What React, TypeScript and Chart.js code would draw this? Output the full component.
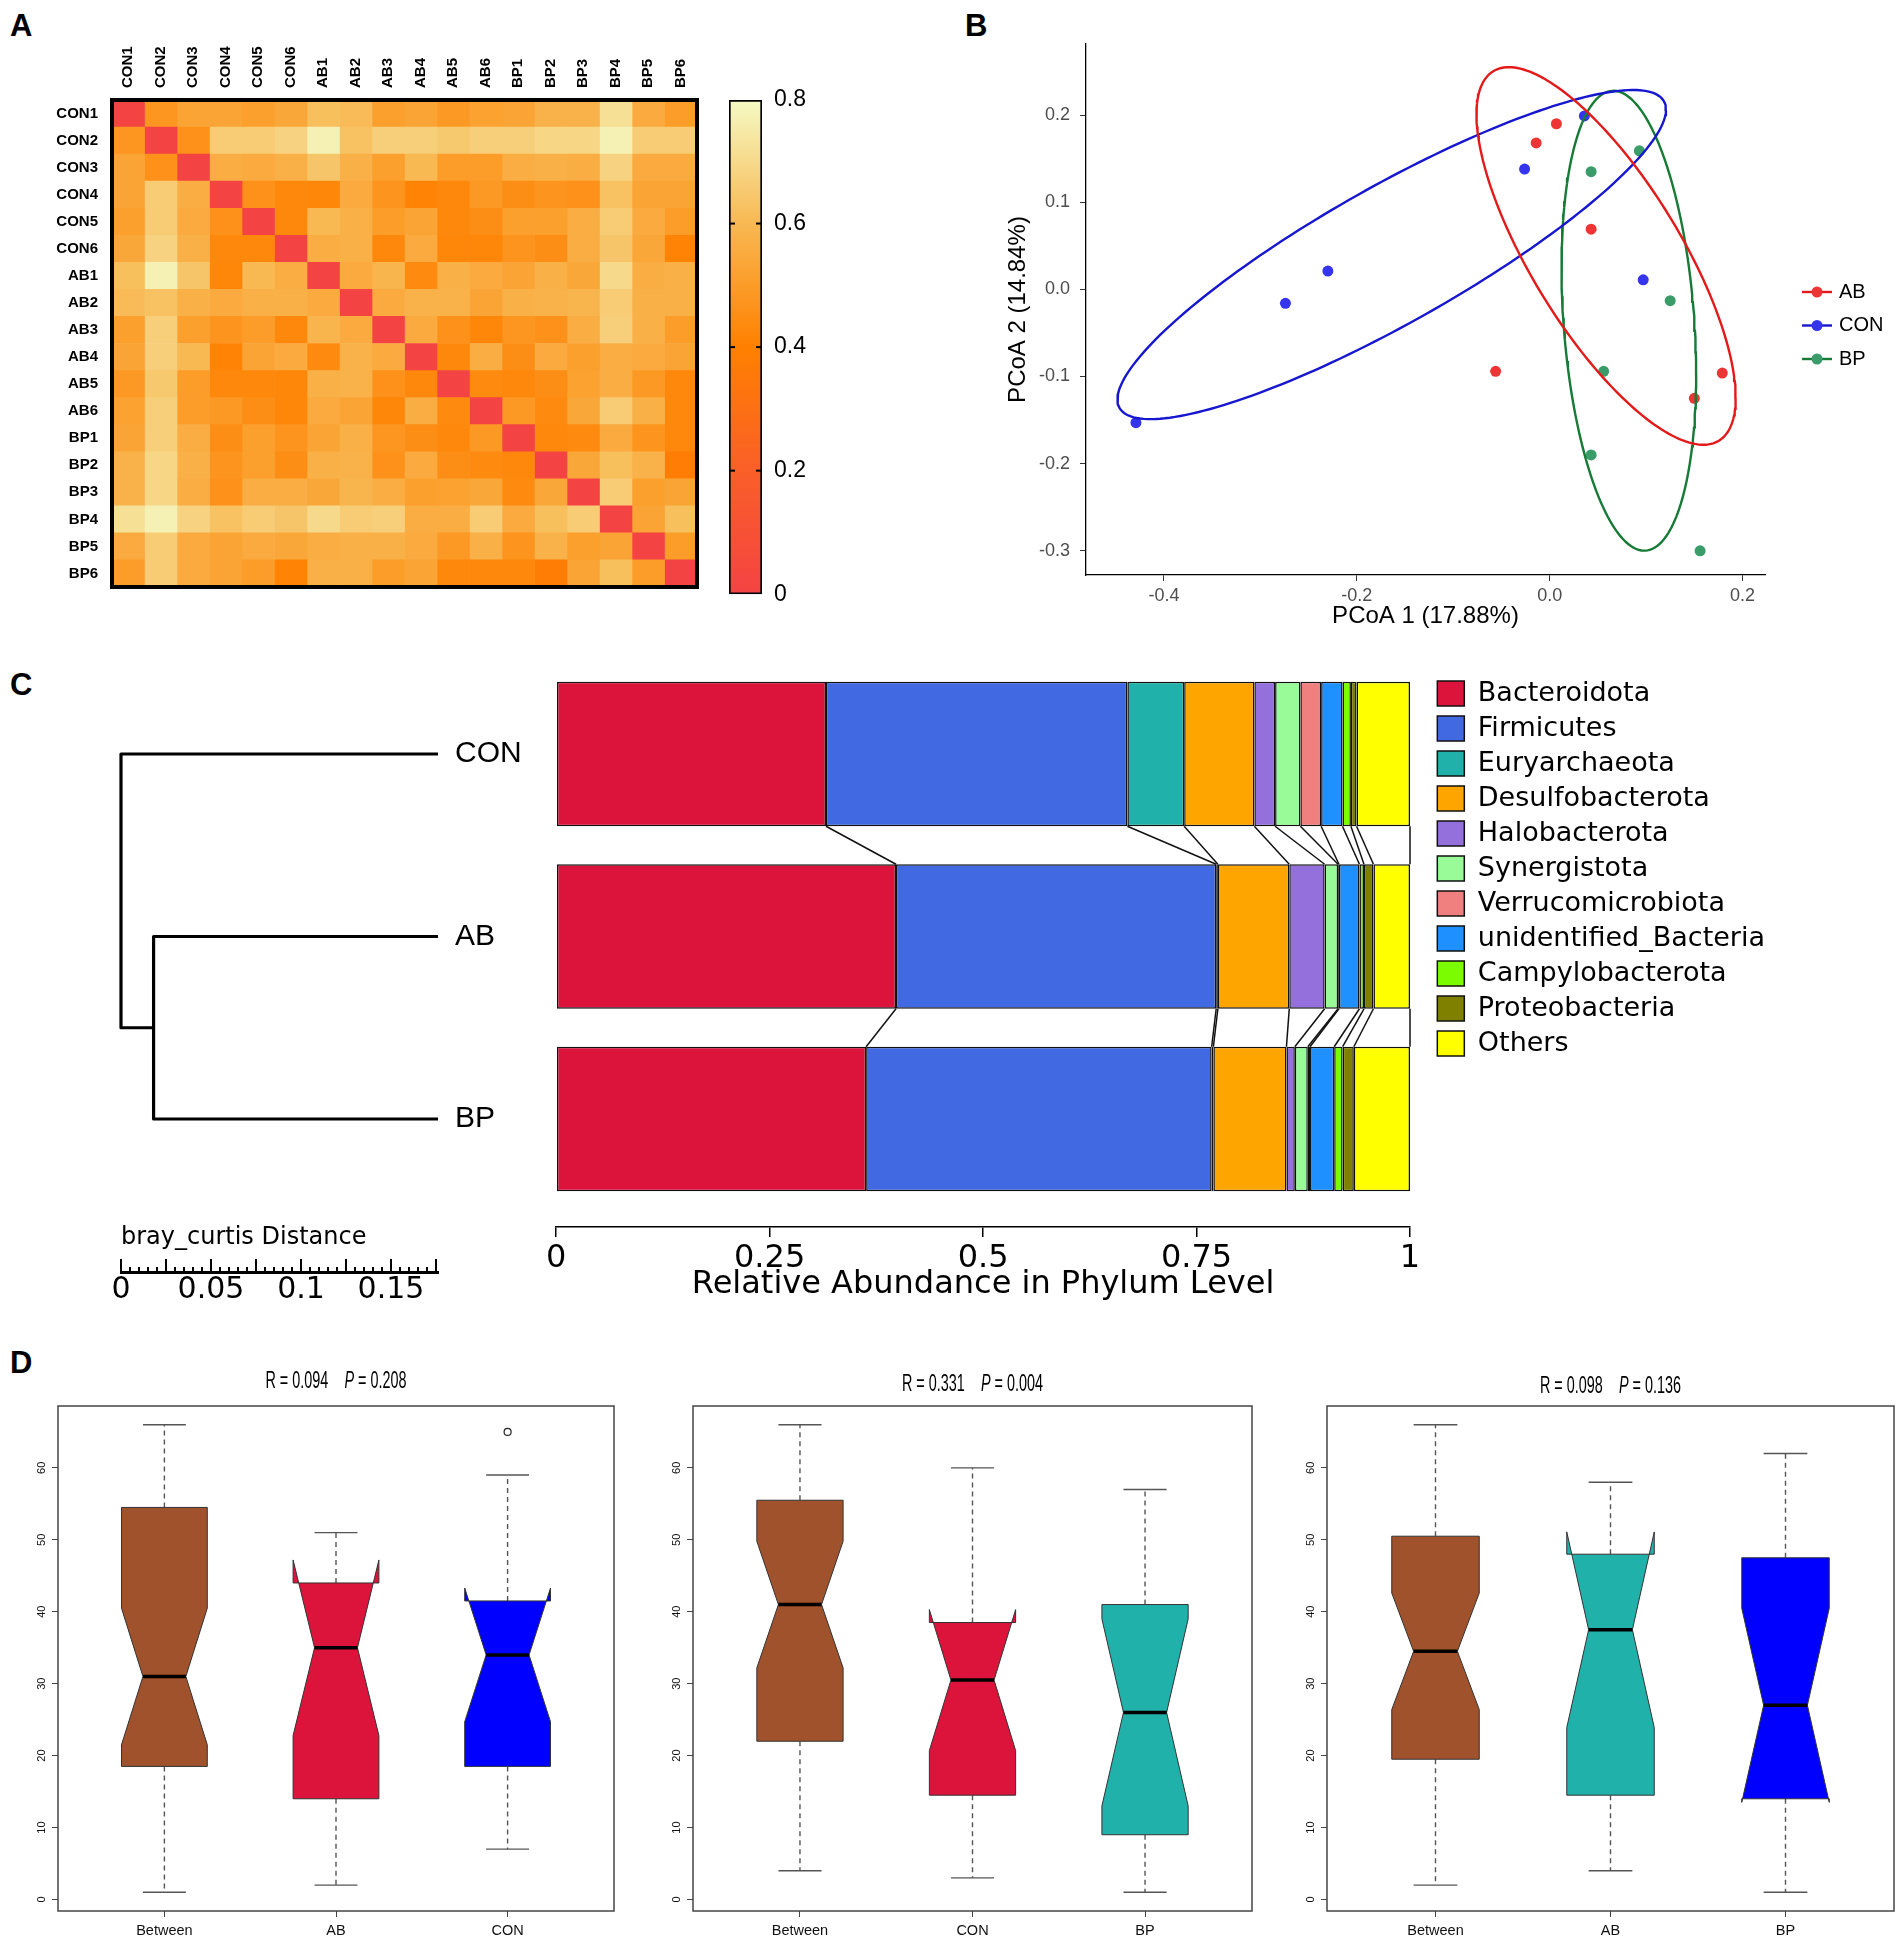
import React, { useEffect, useRef } from 'react';
import { Chart, registerables } from 'chart.js';

Chart.register(...registerables);

const SANS = "'Liberation Sans', Arial, Helvetica, sans-serif";
const NARROW = "'Liberation Sans Narrow', 'Liberation Sans', Arial, sans-serif";
const DEJAVU = "'DejaVu Sans', 'Liberation Sans', sans-serif";
Chart.defaults.font.family = SANS;
Chart.defaults.color = '#000';

/* ================= Panel A : Bray-Curtis distance heatmap ================= */
const SAMPLES = ['CON1', 'CON2', 'CON3', 'CON4', 'CON5', 'CON6', 'AB1', 'AB2', 'AB3', 'AB4', 'AB5', 'AB6', 'BP1', 'BP2', 'BP3', 'BP4', 'BP5', 'BP6'];
const ROW_CON1 = [0, 0.48, 0.53, 0.53, 0.51, 0.54, 0.62, 0.61, 0.51, 0.53, 0.49, 0.52, 0.53, 0.58, 0.58, 0.72, 0.55, 0.5];
const ROW_CON2 = [0.48, 0, 0.46, 0.66, 0.66, 0.68, 0.77, 0.63, 0.67, 0.67, 0.65, 0.67, 0.67, 0.69, 0.69, 0.77, 0.66, 0.66];
const ROW_CON3 = [0.53, 0.46, 0, 0.56, 0.55, 0.57, 0.64, 0.57, 0.51, 0.6, 0.5, 0.5, 0.56, 0.57, 0.56, 0.68, 0.55, 0.55];
const ROW_CON4 = [0.53, 0.66, 0.56, 0, 0.46, 0.43, 0.42, 0.55, 0.47, 0.41, 0.43, 0.49, 0.45, 0.47, 0.46, 0.63, 0.53, 0.53];
const ROW_CON5 = [0.51, 0.66, 0.55, 0.46, 0, 0.43, 0.6, 0.57, 0.5, 0.53, 0.43, 0.45, 0.51, 0.51, 0.56, 0.66, 0.55, 0.5];
const ROW_CON6 = [0.54, 0.68, 0.57, 0.43, 0.43, 0, 0.56, 0.57, 0.43, 0.55, 0.42, 0.42, 0.47, 0.45, 0.56, 0.64, 0.54, 0.41];
const ROW_AB1 = [0.62, 0.77, 0.64, 0.42, 0.6, 0.56, 0, 0.55, 0.59, 0.44, 0.57, 0.55, 0.53, 0.57, 0.54, 0.7, 0.56, 0.57];
const ROW_AB2 = [0.61, 0.63, 0.57, 0.55, 0.57, 0.57, 0.55, 0, 0.55, 0.58, 0.58, 0.53, 0.57, 0.58, 0.59, 0.66, 0.57, 0.57];
const ROW_AB3 = [0.51, 0.67, 0.51, 0.47, 0.5, 0.43, 0.59, 0.55, 0, 0.55, 0.46, 0.42, 0.48, 0.46, 0.56, 0.67, 0.57, 0.5];
const ROW_AB4 = [0.53, 0.67, 0.6, 0.41, 0.53, 0.55, 0.44, 0.58, 0.55, 0, 0.43, 0.56, 0.45, 0.55, 0.51, 0.56, 0.55, 0.53];
const ROW_AB5 = [0.49, 0.65, 0.5, 0.43, 0.43, 0.42, 0.57, 0.58, 0.46, 0.43, 0, 0.44, 0.43, 0.45, 0.52, 0.56, 0.49, 0.43];
const ROW_AB6 = [0.52, 0.67, 0.5, 0.49, 0.45, 0.42, 0.55, 0.53, 0.42, 0.56, 0.44, 0, 0.49, 0.44, 0.54, 0.66, 0.57, 0.43];
const ROW_BP1 = [0.53, 0.67, 0.56, 0.45, 0.51, 0.47, 0.53, 0.57, 0.48, 0.45, 0.43, 0.49, 0, 0.43, 0.44, 0.55, 0.47, 0.43];
const ROW_BP2 = [0.58, 0.69, 0.57, 0.47, 0.51, 0.45, 0.57, 0.58, 0.46, 0.55, 0.45, 0.44, 0.43, 0, 0.54, 0.62, 0.58, 0.38];
const ROW_BP3 = [0.58, 0.69, 0.56, 0.46, 0.56, 0.56, 0.54, 0.59, 0.56, 0.51, 0.52, 0.54, 0.44, 0.54, 0, 0.66, 0.51, 0.53];
const ROW_BP4 = [0.72, 0.77, 0.68, 0.63, 0.66, 0.64, 0.7, 0.66, 0.67, 0.56, 0.56, 0.66, 0.55, 0.62, 0.66, 0, 0.53, 0.62];
const ROW_BP5 = [0.55, 0.66, 0.55, 0.53, 0.55, 0.54, 0.56, 0.57, 0.57, 0.55, 0.49, 0.57, 0.47, 0.58, 0.51, 0.53, 0, 0.5];
const ROW_BP6 = [0.5, 0.66, 0.55, 0.53, 0.5, 0.41, 0.57, 0.57, 0.5, 0.53, 0.43, 0.43, 0.43, 0.38, 0.53, 0.62, 0.5, 0];
const DIST_MATRIX = [ROW_CON1, ROW_CON2, ROW_CON3, ROW_CON4, ROW_CON5, ROW_CON6, ROW_AB1, ROW_AB2, ROW_AB3, ROW_AB4, ROW_AB5, ROW_AB6, ROW_BP1, ROW_BP2, ROW_BP3, ROW_BP4, ROW_BP5, ROW_BP6];
const COLOR_STOPS = [0, 0.2, 0.4, 0.6, 0.8];
const STOP_RGB = [[244, 67, 67], [250, 95, 40], [255, 128, 0], [248, 184, 82], [245, 250, 196]];

/* ================= Panel B : PCoA ================= */
const PCOA_GROUPS = ['AB', 'CON', 'BP'];
const AB_PC1 = [0.007, -0.014, 0.043, -0.056, 0.179, 0.15];
const AB_PC2 = [0.19, 0.168, 0.069, -0.094, -0.096, -0.125];
const CON_PC1 = [0.036, -0.026, -0.23, -0.274, 0.097, -0.429];
const CON_PC2 = [0.199, 0.138, 0.021, -0.016, 0.011, -0.153];
const BP_PC1 = [0.093, 0.043, 0.125, 0.056, 0.043, 0.156];
const BP_PC2 = [0.159, 0.135, -0.013, -0.094, -0.19, -0.3];
// confidence ellipses: [centre x, centre y, half-width x, half-height y, cos(phase)]
const AB_ELLIPSE = [0.0585, 0.0383, 0.1344, 0.2166, -0.75];
const CON_ELLIPSE = [-0.1638, 0.0399, 0.2844, 0.1888, 0.88];
const BP_ELLIPSE = [0.0821, -0.036, 0.0698, 0.2638, -0.23];
const PC1_TICKS = [-0.4, -0.2, 0.0, 0.2];
const PC2_TICKS = [-0.3, -0.2, -0.1, 0.0, 0.1, 0.2];
const PCOA_POINT_COLORS = ['#EE3535', '#3535EE', '#3A9C68'];
const PCOA_LINE_COLORS = ['#E41A1A', '#1717CF', '#177A36'];

/* ================= Panel C : dendrogram + phylum composition ================= */
const LEAVES = ['CON', 'AB', 'BP'];
const HEIGHT_AB_BP = 0.158;
const HEIGHT_ROOT = 0.1761;
const PHYLA = ['Bacteroidota', 'Firmicutes', 'Euryarchaeota', 'Desulfobacterota', 'Halobacterota', 'Synergistota', 'Verrucomicrobiota', 'unidentified_Bacteria', 'Campylobacterota', 'Proteobacteria', 'Others'];
const PHYLA_COLORS = ['#DC143C', '#4169E1', '#20B2AA', '#FFA500', '#9370DB', '#98FB98', '#F08080', '#1E90FF', '#7CFC00', '#808000', '#FFFF00'];
const ABUND_CON = [0.316, 0.353, 0.0665, 0.0822, 0.0243, 0.0296, 0.0243, 0.025, 0.0099, 0.0066, 0.0626];
const ABUND_AB = [0.398, 0.375, 0.002, 0.0836, 0.0414, 0.0158, 0.001, 0.024, 0.0053, 0.0111, 0.0428];
const ABUND_BP = [0.363, 0.4047, 0.002, 0.0856, 0.0098, 0.0152, 0.0026, 0.0283, 0.0099, 0.0131, 0.0658];
const ABUND = [ABUND_CON, ABUND_AB, ABUND_BP];
const ABUND_TICKS = [0, 0.25, 0.5, 0.75, 1];
const C_Y_MIN = -0.4493;
const C_Y_MAX = 2.5918;
const SCALEBAR_Y = 2.8384;

/* ================= Panel D : ANOSIM box plots ================= */
// each box: [lower whisker, Q1, notch low, median, notch high, Q3, upper whisker]
const D1_GROUPS = ['Between', 'AB', 'CON'];
const D1_BETWEEN = [1.0, 18.5, 21.5, 31.0, 40.5, 54.5, 66.0];
const D1_AB = [2.0, 14.0, 22.8, 35.0, 47.2, 44.0, 51.0];
const D1_CON = [7.0, 18.5, 24.7, 34.0, 43.3, 41.5, 59.0];
const D1_OUTLIERS = [[], [], [65.0]];
const D1_R = '0.094';
const D1_P = '0.208';

const D2_GROUPS = ['Between', 'CON', 'BP'];
const D2_BETWEEN = [4.0, 22.0, 32.2, 41.0, 49.8, 55.5, 66.0];
const D2_CON = [3.0, 14.5, 20.7, 30.5, 40.3, 38.5, 60.0];
const D2_BP = [1.0, 9.0, 13.0, 26.0, 39.0, 41.0, 57.0];
const D2_OUTLIERS = [[], [], []];
const D2_R = '0.331';
const D2_P = '0.004';

const D3_GROUPS = ['Between', 'AB', 'BP'];
const D3_BETWEEN = [2.0, 19.5, 26.4, 34.5, 42.6, 50.5, 66.0];
const D3_AB = [4.0, 14.5, 23.9, 37.5, 51.1, 48.0, 58.0];
const D3_BP = [1.0, 14.0, 13.5, 27.0, 40.5, 47.5, 62.0];
const D3_OUTLIERS = [[], [], []];
const D3_R = '0.098';
const D3_P = '0.136';

const D1_COLORS = ['#A0522D', '#DC143C', '#0000FF'];
const D2_COLORS = ['#A0522D', '#DC143C', '#20B2AA'];
const D3_COLORS = ['#A0522D', '#20B2AA', '#0000FF'];

/* ================= helpers ================= */
function rgbStr(c: number[]) {
  return `rgb(${c.map((v) => Math.round(v)).join(',')})`;
}
function heatColor(v: number) {
  const lo = COLOR_STOPS[0];
  const hi = COLOR_STOPS[COLOR_STOPS.length - 1];
  const t = Math.max(lo, Math.min(hi, v));
  for (let i = 0; i < COLOR_STOPS.length - 1; i++) {
    if (t <= COLOR_STOPS[i + 1]) {
      const f = (t - COLOR_STOPS[i]) / (COLOR_STOPS[i + 1] - COLOR_STOPS[i]);
      return rgbStr(STOP_RGB[i].map((c, k) => c + (STOP_RGB[i + 1][k] - c) * f));
    }
  }
  return rgbStr(STOP_RGB[STOP_RGB.length - 1]);
}
function ellipsePoints(p: number[]) {
  const [cx, cy, rx, ry, c] = p;
  const phi = Math.acos(c);
  const pts: any[] = [];
  for (let i = 0; i <= 200; i++) {
    const t = (i / 200) * Math.PI * 2;
    pts.push({ x: cx + rx * Math.cos(t), y: cy + ry * Math.cos(t - phi) });
  }
  return pts;
}
function line(ctx: any, x1: number, y1: number, x2: number, y2: number) {
  ctx.beginPath();
  ctx.moveTo(x1, y1);
  ctx.lineTo(x2, y2);
  ctx.stroke();
}

/* ================= plugins ================= */
const heatFrame = {
  id: 'heatFrame',
  afterDatasetsDraw(chart: any) {
    const { ctx, chartArea: a } = chart;
    ctx.save();
    ctx.strokeStyle = '#000';
    ctx.lineWidth = 4;
    ctx.strokeRect(a.left, a.top, a.right - a.left, a.bottom - a.top);
    ctx.restore();
  },
};
const colorbarTicks = {
  id: 'colorbarTicks',
  afterDatasetsDraw(chart: any) {
    const { ctx, chartArea: a } = chart;
    const ys = chart.scales.y;
    ctx.save();
    ctx.strokeStyle = '#000';
    ctx.lineWidth = 2;
    COLOR_STOPS.slice(1, -1).forEach((v) => {
      const y = ys.getPixelForValue(v);
      line(ctx, a.left, y, a.left + 6, y);
      line(ctx, a.right - 6, y, a.right, y);
    });
    ctx.restore();
  },
};
const pcoaLegend = {
  id: 'pcoaLegend',
  afterDraw(chart: any) {
    const { ctx, chartArea: a } = chart;
    const x0 = a.right + 37;
    PCOA_GROUPS.forEach((g, i) => {
      const y = a.top + 248 + i * 33.5;
      ctx.save();
      ctx.strokeStyle = PCOA_LINE_COLORS[i];
      ctx.lineWidth = 2.4;
      line(ctx, x0, y, x0 + 30, y);
      ctx.fillStyle = PCOA_POINT_COLORS[i];
      ctx.beginPath();
      ctx.arc(x0 + 15, y, 5.5, 0, Math.PI * 2);
      ctx.fill();
      ctx.fillStyle = '#000';
      ctx.font = `20px ${SANS}`;
      ctx.textBaseline = 'middle';
      ctx.textAlign = 'left';
      ctx.fillText(g, x0 + 37, y);
      ctx.restore();
    });
  },
};
const dendroTitle = {
  id: 'dendroTitle',
  afterDraw(chart: any) {
    const { ctx, chartArea: a } = chart;
    const y = chart.scales.y.getPixelForValue(SCALEBAR_Y) - 34;
    ctx.save();
    ctx.fillStyle = '#000';
    ctx.font = `24px ${DEJAVU}`;
    ctx.textBaseline = 'middle';
    ctx.textAlign = 'left';
    ctx.fillText('bray_curtis Distance', a.left, y);
    ctx.restore();
  },
};
const linkLines = {
  id: 'linkLines',
  afterDatasetsDraw(chart: any) {
    const { ctx } = chart;
    const xs = chart.scales.x;
    const meta0 = chart.getDatasetMeta(0);
    ctx.save();
    ctx.strokeStyle = '#111';
    ctx.lineWidth = 1.5;
    for (let gi = 0; gi < LEAVES.length - 1; gi++) {
      const a = meta0.data[gi];
      const b = meta0.data[gi + 1];
      const yA = a.y + a.height / 2;
      const yB = b.y - b.height / 2;
      let cumA = 0;
      let cumB = 0;
      PHYLA.forEach((_, k) => {
        cumA += ABUND[gi][k];
        cumB += ABUND[gi + 1][k];
        line(ctx, xs.getPixelForValue(cumA), yA, xs.getPixelForValue(cumB), yB);
      });
    }
    ctx.restore();
  },
};
const boxFrame = {
  id: 'boxFrame',
  afterDraw(chart: any) {
    const { ctx, chartArea: a } = chart;
    ctx.save();
    ctx.strokeStyle = '#444';
    ctx.lineWidth = 1.5;
    ctx.strokeRect(a.left, a.top, a.right - a.left, a.bottom - a.top);
    ctx.restore();
  },
};
const notchedBoxes = {
  id: 'notchedBoxes',
  afterDatasetsDraw(chart: any, _args: any, opts: any) {
    const { ctx } = chart;
    const ys = chart.scales.y;
    const P = (v: number) => ys.getPixelForValue(v);
    const meta = chart.getDatasetMeta(0);
    meta.data.forEach((el: any, i: number) => {
      const [lo, q1, nLo, med, nHi, q3, hi] = opts.stats[i];
      const cx = el.x;
      const hw = el.width / 2;
      ctx.save();
      ctx.strokeStyle = '#555';
      ctx.lineWidth = 1.4;
      ctx.setLineDash([5, 4]);
      line(ctx, cx, P(q3), cx, P(hi));
      line(ctx, cx, P(q1), cx, P(lo));
      ctx.setLineDash([]);
      line(ctx, cx - hw / 2, P(hi), cx + hw / 2, P(hi));
      line(ctx, cx - hw / 2, P(lo), cx + hw / 2, P(lo));
      ctx.beginPath();
      ctx.moveTo(cx - hw, P(q1));
      ctx.lineTo(cx - hw, P(nLo));
      ctx.lineTo(cx - hw / 2, P(med));
      ctx.lineTo(cx - hw, P(nHi));
      ctx.lineTo(cx - hw, P(q3));
      ctx.lineTo(cx + hw, P(q3));
      ctx.lineTo(cx + hw, P(nHi));
      ctx.lineTo(cx + hw / 2, P(med));
      ctx.lineTo(cx + hw, P(nLo));
      ctx.lineTo(cx + hw, P(q1));
      ctx.closePath();
      ctx.fillStyle = opts.colors[i];
      ctx.fill();
      ctx.strokeStyle = '#333';
      ctx.lineWidth = 1;
      ctx.stroke();
      ctx.strokeStyle = '#000';
      ctx.lineWidth = 3.5;
      line(ctx, cx - hw / 2, P(med), cx + hw / 2, P(med));
      ctx.restore();
    });
  },
};
const boxTitle = {
  id: 'boxTitle',
  afterDraw(chart: any, _args: any, opts: any) {
    const { ctx, chartArea: a } = chart;
    const cx = (a.left + a.right) / 2;
    const f1 = `24px ${SANS}`;
    const f2 = `italic 24px ${SANS}`;
    const p1 = `R = ${opts.r}`;
    const p2 = 'P';
    const p3 = ` = ${opts.p}`;
    const gap = 27;
    ctx.save();
    ctx.translate(cx, opts.y);
    ctx.scale(0.6, 1);
    ctx.font = f1;
    const w1 = ctx.measureText(p1).width;
    const w3 = ctx.measureText(p3).width;
    ctx.font = f2;
    const w2 = ctx.measureText(p2).width;
    let x = -(w1 + gap + w2 + w3) / 2;
    ctx.fillStyle = '#000';
    ctx.textBaseline = 'middle';
    ctx.textAlign = 'left';
    ctx.font = f1;
    ctx.fillText(p1, x, 0);
    x += w1 + gap;
    ctx.font = f2;
    ctx.fillText(p2, x, 0);
    x += w2;
    ctx.font = f1;
    ctx.fillText(p3, x, 0);
    ctx.restore();
  },
};

/* ================= chart configs ================= */
function heatmapConfig(): any {
  const labelFont = { family: SANS, size: 15, weight: 'bold' };
  return {
    type: 'bar',
    data: {
      labels: SAMPLES,
      datasets: SAMPLES.map((col, j) => ({
        label: col,
        data: SAMPLES.map(() => [j - 0.5, j + 0.5]),
        backgroundColor: DIST_MATRIX.map((row) => heatColor(row[j])),
        borderWidth: 0,
        barPercentage: 1,
        categoryPercentage: 1,
        grouped: false,
      })),
    },
    options: {
      indexAxis: 'y',
      responsive: false,
      animation: false,
      events: [],
      layout: { padding: { top: 0, right: 8, bottom: 8, left: 0 } },
      plugins: { legend: { display: false }, tooltip: { enabled: false } },
      scales: {
        x: { type: 'linear', min: -0.5, max: SAMPLES.length - 0.5, display: false },
        xTop: {
          type: 'category',
          labels: SAMPLES,
          position: 'top',
          offset: true,
          grid: { display: false, drawTicks: false },
          border: { display: false },
          ticks: { autoSkip: false, minRotation: 90, maxRotation: 90, padding: 12, labelOffset: 18, color: '#000', font: labelFont },
          afterFit: (s: any) => { s.height = 100; },
        },
        y: {
          type: 'category',
          position: 'left',
          offset: true,
          grid: { display: false, drawTicks: false },
          border: { display: false },
          ticks: { autoSkip: false, padding: 14, color: '#000', font: labelFont },
          afterFit: (s: any) => { s.width = 112; },
        },
      },
    },
    plugins: [heatFrame],
  };
}

function colorbarConfig(): any {
  const lo = COLOR_STOPS[0];
  const hi = COLOR_STOPS[COLOR_STOPS.length - 1];
  return {
    type: 'bar',
    data: {
      labels: ['distance'],
      datasets: [{
        data: [[lo, hi]],
        backgroundColor: (c: any) => {
          const chart = c.chart;
          if (!chart.chartArea) return 'rgba(0,0,0,0)';
          const ys = chart.scales.y;
          const g = chart.ctx.createLinearGradient(0, ys.getPixelForValue(lo), 0, ys.getPixelForValue(hi));
          COLOR_STOPS.forEach((s, i) => g.addColorStop((s - lo) / (hi - lo), rgbStr(STOP_RGB[i])));
          return g;
        },
        borderColor: '#000',
        borderWidth: 2,
        borderSkipped: false,
        barPercentage: 1,
        categoryPercentage: 1,
      }],
    },
    options: {
      responsive: false,
      animation: false,
      events: [],
      layout: { padding: { left: 24, top: 100, bottom: 18, right: 0 } },
      plugins: { legend: { display: false }, tooltip: { enabled: false } },
      scales: {
        x: { display: false },
        y: {
          position: 'right',
          min: lo,
          max: hi,
          afterBuildTicks: (s: any) => { s.ticks = COLOR_STOPS.map((v) => ({ value: v })); },
          ticks: { padding: 12, color: '#000', font: { family: SANS, size: 23 }, callback: (v: any) => String(Math.round(v * 10) / 10) },
          grid: { display: false, drawTicks: false },
          border: { display: false },
          afterFit: (s: any) => { s.width = 78; },
        },
      },
    },
    plugins: [colorbarTicks],
  };
}

function pcoaConfig(): any {
  const mk = (xs: number[], ys: number[]) => xs.map((x, i) => ({ x, y: ys[i] }));
  const ellipses = [AB_ELLIPSE, CON_ELLIPSE, BP_ELLIPSE];
  const points = [mk(AB_PC1, AB_PC2), mk(CON_PC1, CON_PC2), mk(BP_PC1, BP_PC2)];
  const tickFont = { family: SANS, size: 18 };
  const titleFont = { family: SANS, size: 24 };
  return {
    type: 'scatter',
    data: {
      datasets: [
        ...PCOA_GROUPS.map((g, i) => ({
          label: g + ' ellipse',
          data: ellipsePoints(ellipses[i]),
          showLine: true,
          borderColor: PCOA_LINE_COLORS[i],
          borderWidth: 2.4,
          pointRadius: 0,
          fill: false,
        })),
        ...PCOA_GROUPS.map((g, i) => ({
          label: g,
          data: points[i],
          pointRadius: 5.5,
          backgroundColor: PCOA_POINT_COLORS[i],
          borderWidth: 0,
        })),
      ],
    },
    options: {
      responsive: false,
      animation: false,
      events: [],
      layout: { padding: { left: 20, top: 44, right: 139, bottom: 0 } },
      plugins: { legend: { display: false }, tooltip: { enabled: false } },
      scales: {
        x: {
          type: 'linear',
          min: -0.4808,
          max: 0.2233,
          afterBuildTicks: (s: any) => { s.ticks = PC1_TICKS.map((v) => ({ value: v })); },
          ticks: { callback: (v: any) => Number(v).toFixed(1), color: '#4D4D4D', font: tickFont, padding: 4 },
          grid: { drawOnChartArea: false, tickLength: 6, color: '#333' },
          border: { color: '#000', width: 1.3 },
          title: { display: true, text: 'PCoA 1 (17.88%)', color: '#000', font: titleFont, padding: { top: 0, bottom: 9 } },
          afterFit: (s: any) => { s.height = 65; },
        },
        y: {
          type: 'linear',
          min: -0.3277,
          max: 0.2815,
          afterBuildTicks: (s: any) => { s.ticks = PC2_TICKS.map((v) => ({ value: v })); },
          ticks: { callback: (v: any) => Number(v).toFixed(1), color: '#4D4D4D', font: tickFont, padding: 10 },
          grid: { drawOnChartArea: false, tickLength: 6, color: '#333' },
          border: { color: '#000', width: 1.3 },
          title: { display: true, text: 'PCoA 2 (14.84%)', color: '#000', font: titleFont, padding: { top: 4, bottom: 0 } },
          afterFit: (s: any) => { s.width = 86; },
        },
      },
    },
    plugins: [pcoaLegend],
  };
}

function dendroConfig(): any {
  const yOf = (n: string) => LEAVES.indexOf(n);
  const xOf = (h: number) => HEIGHT_ROOT - h;
  const yABBP = (yOf('AB') + yOf('BP')) / 2;
  const branchRoot = [
    { x: xOf(0), y: yOf('CON') },
    { x: xOf(HEIGHT_ROOT), y: yOf('CON') },
    { x: xOf(HEIGHT_ROOT), y: yABBP },
    { x: xOf(HEIGHT_AB_BP), y: yABBP },
  ];
  const branchABBP = [
    { x: xOf(0), y: yOf('AB') },
    { x: xOf(HEIGHT_AB_BP), y: yOf('AB') },
    { x: xOf(HEIGHT_AB_BP), y: yOf('BP') },
    { x: xOf(0), y: yOf('BP') },
  ];
  const isMult = (v: number, m: number) => Math.abs(v / m - Math.round(v / m)) < 1e-6;
  return {
    type: 'scatter',
    data: {
      datasets: [branchRoot, branchABBP].map((d, i) => ({
        label: 'branch' + i,
        data: d,
        showLine: true,
        borderColor: '#000',
        borderWidth: 3.2,
        borderJoinStyle: 'round',
        pointRadius: 0,
        fill: false,
        clip: false,
      })),
    },
    options: {
      responsive: false,
      animation: false,
      events: [],
      layout: { autoPadding: false, padding: { left: 121, top: 0, bottom: 93, right: 0 } },
      plugins: { legend: { display: false }, tooltip: { enabled: false } },
      scales: {
        x: {
          type: 'linear',
          min: 0,
          max: HEIGHT_ROOT,
          position: { y: SCALEBAR_Y },
          ticks: { stepSize: 0.005, includeBounds: false, autoSkip: false, callback: () => '' },
          grid: { drawOnChartArea: false, tickLength: -7, color: '#000', lineWidth: 2 },
          border: { color: '#000', width: 3 },
          afterFit: (s: any) => { s.paddingLeft = 0; s.paddingRight = 0; s.paddingTop = 0; s.paddingBottom = 0; },
        },
        x2: {
          type: 'linear',
          min: 0,
          max: HEIGHT_ROOT,
          position: { y: SCALEBAR_Y },
          ticks: {
            stepSize: 0.025,
            includeBounds: false,
            autoSkip: false,
            maxRotation: 0,
            padding: 16,
            color: '#000',
            font: { family: DEJAVU, size: 30, lineHeight: 1 },
            callback: (v: any) => (isMult(v, 0.05) ? String(Number(Number(v).toFixed(2))) : ''),
          },
          grid: { drawOnChartArea: false, tickLength: -13, color: '#000', lineWidth: 2 },
          border: { display: false },
          afterFit: (s: any) => { s.paddingLeft = 0; s.paddingRight = 0; s.paddingTop = 0; s.paddingBottom = 0; },
        },
        y: {
          type: 'linear',
          position: 'right',
          reverse: true,
          min: C_Y_MIN,
          max: C_Y_MAX,
          afterBuildTicks: (s: any) => { s.ticks = LEAVES.map((_, i) => ({ value: i })); },
          ticks: { callback: (v: any) => LEAVES[Math.round(v)], color: '#000', font: { family: SANS, size: 30 }, padding: 17 },
          grid: { display: false, drawTicks: false },
          border: { display: false },
          afterFit: (s: any) => { s.width = 102; s.paddingTop = 0; s.paddingBottom = 0; },
        },
      },
    },
    plugins: [dendroTitle],
  };
}

function barsConfig(): any {
  return {
    type: 'bar',
    data: {
      datasets: PHYLA.map((name, k) => ({
        label: name,
        data: LEAVES.map((_, gi) => ({ x: ABUND[gi][k], y: gi })),
        backgroundColor: PHYLA_COLORS[k],
        borderColor: '#111',
        borderWidth: 1.5,
        borderSkipped: false,
        categoryPercentage: 0.792,
        barPercentage: 1,
      })),
    },
    options: {
      indexAxis: 'y',
      responsive: false,
      animation: false,
      events: [],
      layout: { padding: { left: 16, top: 0, right: 0, bottom: 0 } },
      plugins: {
        legend: {
          position: 'right',
          align: 'start',
          maxWidth: 420,
          labels: { boxWidth: 27, boxHeight: 25, padding: 8, color: '#000', font: { family: DEJAVU, size: 27, lineHeight: 1 } },
        },
        tooltip: { enabled: false },
      },
      scales: {
        x: {
          type: 'linear',
          stacked: true,
          min: 0,
          max: 1,
          afterBuildTicks: (s: any) => { s.ticks = ABUND_TICKS.map((v) => ({ value: v })); },
          ticks: { padding: 6, color: '#000', font: { family: DEJAVU, size: 32, lineHeight: 1 }, callback: (v: any) => String(v), maxRotation: 0 },
          grid: { drawOnChartArea: false, tickLength: 10, color: '#000', lineWidth: 1.5 },
          border: { color: '#000', width: 1.5 },
          title: { display: true, text: 'Relative Abundance in Phylum Level', color: '#000', font: { family: DEJAVU, size: 32, lineHeight: 1 }, padding: { top: 0, bottom: 19 } },
          afterFit: (s: any) => { s.height = 93; },
        },
        y: {
          type: 'linear',
          stacked: true,
          position: 'right',
          reverse: true,
          offset: false,
          min: C_Y_MIN,
          max: C_Y_MAX,
          afterBuildTicks: (s: any) => { s.ticks = LEAVES.map((_, i) => ({ value: i })); },
          ticks: { display: false },
          grid: { display: false, drawTicks: false },
          border: { display: false },
          afterFit: (s: any) => {
            const lw = s.chart.legend ? s.chart.legend.width : 0;
            s.width = Math.max(0, s.chart.width - lw - 870);
          },
        },
      },
    },
    plugins: [linkLines],
  };
}

function boxConfig(groups: string[], colors: string[], stats: number[][], outliers: number[][], rVal: string, pVal: string, yW: number, padR: number, titleY: number): any {
  return {
    type: 'bar',
    data: {
      datasets: [
        {
          type: 'bar',
          label: 'box',
          data: stats.map((s, i) => ({ x: i + 1, y: [s[1], s[5]] })),
          backgroundColor: 'rgba(0,0,0,0)',
          borderWidth: 0,
          categoryPercentage: 0.5,
          barPercentage: 1,
        },
        {
          type: 'scatter',
          label: 'outliers',
          data: outliers.flatMap((o, i) => o.map((v) => ({ x: i + 1, y: v }))),
          pointStyle: 'circle',
          pointRadius: 3.5,
          borderColor: '#222',
          backgroundColor: 'rgba(0,0,0,0)',
          borderWidth: 1.2,
        },
      ],
    },
    options: {
      responsive: false,
      animation: false,
      events: [],
      layout: { padding: { top: 66, right: padR, left: 0, bottom: 0 } },
      plugins: {
        legend: { display: false },
        tooltip: { enabled: false },
        notchedBoxes: { stats, colors },
        boxTitle: { r: rVal, p: pVal, y: titleY },
      },
      scales: {
        x: {
          type: 'linear',
          min: 0.38,
          max: 3.62,
          offset: false,
          afterBuildTicks: (s: any) => { s.ticks = groups.map((_, i) => ({ value: i + 1 })); },
          ticks: { callback: (v: any) => groups[Math.round(v) - 1], color: '#111', font: { family: NARROW, size: 14.5 }, padding: 5, autoSkip: false, maxRotation: 0 },
          grid: { drawOnChartArea: false, tickLength: 6, color: '#444', offset: false },
          border: { display: false },
          afterFit: (s: any) => { s.height = 35; },
        },
        y: {
          type: 'linear',
          min: -1.6,
          max: 68.6,
          ticks: { stepSize: 10, includeBounds: false, minRotation: 90, maxRotation: 90, crossAlign: 'center', padding: 4, color: '#111', font: { family: SANS, size: 11 } },
          grid: { drawOnChartArea: false, tickLength: 6, color: '#444' },
          border: { display: false },
          afterFit: (s: any) => { s.width = yW; },
        },
      },
    },
    plugins: [boxFrame, notchedBoxes, boxTitle],
  };
}

/* ================= components ================= */
function ChartCanvas(props: { left: number; top: number; width: number; height: number; make: () => any }) {
  const ref = useRef<HTMLCanvasElement | null>(null);
  useEffect(() => {
    const chart = new Chart(ref.current as HTMLCanvasElement, props.make());
    return () => chart.destroy();
  }, []);
  return (
    <canvas
      ref={ref}
      width={props.width}
      height={props.height}
      style={{ position: 'absolute', left: props.left, top: props.top, width: props.width, height: props.height }}
    />
  );
}

function PanelLetter(props: { text: string; left: number; top: number }) {
  return (
    <div style={{ position: 'absolute', left: props.left, top: props.top, font: `bold 31px ${SANS}`, lineHeight: '31px', color: '#000' }}>
      {props.text}
    </div>
  );
}

export default function App() {
  return (
    <div style={{ position: 'absolute', left: 0, top: 0, width: 1904, height: 1946, background: '#fff', overflow: 'hidden' }}>
      <PanelLetter text="A" left={10} top={10} />
      <PanelLetter text="B" left={965} top={10} />
      <PanelLetter text="C" left={10} top={669} />
      <PanelLetter text="D" left={10} top={1347} />

      <ChartCanvas left={0} top={0} width={705} height={610} make={heatmapConfig} />
      <ChartCanvas left={705} top={0} width={135} height={620} make={colorbarConfig} />
      <ChartCanvas left={980} top={0} width={924} height={640} make={pcoaConfig} />

      <ChartCanvas left={0} top={672} width={540} height={648} make={dendroConfig} />
      <ChartCanvas left={540} top={672} width={1235} height={648} make={barsConfig} />

      <ChartCanvas left={0} top={1340} width={640} height={606}
        make={() => boxConfig(D1_GROUPS, D1_COLORS, [D1_BETWEEN, D1_AB, D1_CON], D1_OUTLIERS, D1_R, D1_P, 58, 26, 41)} />
      <ChartCanvas left={640} top={1340} width={640} height={606}
        make={() => boxConfig(D2_GROUPS, D2_COLORS, [D2_BETWEEN, D2_CON, D2_BP], D2_OUTLIERS, D2_R, D2_P, 53, 28, 44)} />
      <ChartCanvas left={1270} top={1340} width={634} height={606}
        make={() => boxConfig(D3_GROUPS, D3_COLORS, [D3_BETWEEN, D3_AB, D3_BP], D3_OUTLIERS, D3_R, D3_P, 57, 10, 46)} />
    </div>
  );
}
